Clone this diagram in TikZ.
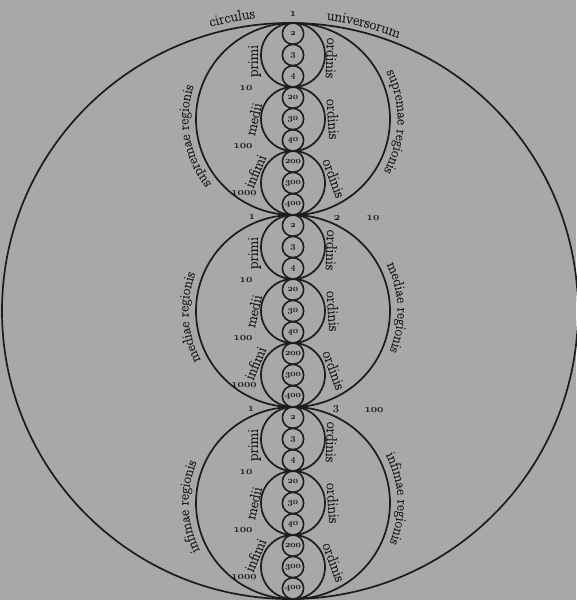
\documentclass[tikz,border=0pt]{standalone}
\usepackage{fontspec}
\usetikzlibrary{decorations.text}
\newfontfamily\wordfam{Latin Modern Roman}[FakeBold=0.7]
\definecolor{bg}{RGB}{168,168,168}
\definecolor{ink}{RGB}{28,28,28}
\newcommand\wordfont{\wordfam\fontsize{15}{15}\selectfont}
\newcommand\regfont{\wordfam\fontsize{14.5}{14.5}\selectfont}
\newcommand\numfont{\fontsize{10.5}{10.5}\selectfont}
\newcommand\cnumfont{\fontsize{9.5}{9.5}\selectfont}
\newcommand\osn[1]{{\usefont{OML}{cmm}{b}{it}#1}}
\begin{document}
\begin{tikzpicture}[x=1pt,y=1pt,
  ln/.style={draw=ink,line width=1.7pt},
  midc/.style={circle,draw=ink,line width=1.7pt,minimum size=64pt,inner sep=0pt},
  smallc/.style={circle,draw=ink,line width=1.6pt,minimum size=21.3pt,inner sep=0pt,font=\cnumfont,text=ink},
  word/.style={font=\wordfont,text=ink,inner sep=0pt},
  numl/.style={font=\numfont,text=ink,inner sep=0pt},
  curved/.style={decorate,decoration={text along path,text color=ink,text align=center,text={#1}}}
]
\fill[bg] (0,0) rectangle (576,600);
\useasboundingbox (0,0) rectangle (576,600);
% the world circle
\node[circle,draw=ink,line width=1.7pt,minimum size=576pt,inner sep=0pt] (world) at (290,289) {};
\path[curved={|\wordfont|circulus}] (290,289) ++(121.2:295) arc[start angle=121.2,end angle=81.2,radius=295];
\path[curved={|\wordfont|universorum}] (290,289) ++(95.6:293.5) arc[start angle=95.6,end angle=55.6,radius=293.5];
\node[numl] (one) at (293,586) {\osn{1}};
% three regions
\foreach \k in {0,1,2}{
  \pgfmathsetmacro\rc{481-192*\k}
  \draw[ln] (293,\rc) ellipse[x radius=97,y radius=96];
  \foreach \m/\a/\b/\c in {1/2/3/4,0/20/30/40,-1/200/300/400}{
    \pgfmathsetmacro\mc{\rc+64*\m}
    \node[midc] (m\k\m) at (293,\mc) {};
    \node[smallc] (sa\k\m) at (293,\mc+21.33) {\osn{\a}};
    \node[smallc] (sb\k\m) at (293,\mc) {\osn{\b}};
    \node[smallc] (sc\k\m) at (293,\mc-21.33) {\osn{\c}};
  }
  \node[word,rotate=90] (p\k) at (254.5,\rc+58) {primi};
  \node[word,rotate=-92] (op\k) at (331.5,\rc+61) {ordinis};
  \node[numl] (t\k) at (246,\rc+31) {\osn{10}};
  \node[word,rotate=77] (md\k) at (253.5,\rc) {medii};
  \node[word,rotate=-86] (om\k) at (333,\rc) {ordinis};
  \node[numl] (h\k) at (243,\rc-27) {\osn{100}};
  \node[word,rotate=67] (in\k) at (255,\rc-52) {infimi};
  \node[word,rotate=-70] (oi\k) at (334,\rc-59) {ordinis};
  \node[numl] (th\k) at (244,\rc-74) {\osn{1000}};
}
% region names
\path[curved={|\regfont|supremae regionis}] (293,481) ++(245:104.5) arc[start angle=245,end angle=135,radius=104.5];
\path[curved={|\regfont|supremae regionis}] (293,481) ++(53.5:104.5) arc[start angle=53.5,end angle=-56.5,radius=104.5];
\path[curved={|\regfont|mediae regionis}] (293,289) ++(238.5:104.5) arc[start angle=238.5,end angle=128.5,radius=104.5];
\path[curved={|\regfont|mediae regionis}] (293,289) ++(57:104.5) arc[start angle=57,end angle=-53,radius=104.5];
\path[curved={|\regfont|infimae regionis}] (293,97) ++(237:104.5) arc[start angle=237,end angle=127,radius=104.5];
\path[curved={|\regfont|infimae regionis}] (293,97) ++(57.5:104.5) arc[start angle=57.5,end angle=-52.5,radius=104.5];
% junction labels
\node[numl] (ja1) at (252,382.5) {\osn{1}};
\node[numl] (jb1) at (337,382) {\osn{2}};
\node[numl] (jc1) at (373,382) {\osn{10}};
\node[numl] (ja2) at (251,190.5) {\osn{1}};
\node[numl] (jb2) at (336,190.5) {\osn{3}};
\node[numl] (jc2) at (374,190) {\osn{100}};
\end{tikzpicture}
\end{document}
